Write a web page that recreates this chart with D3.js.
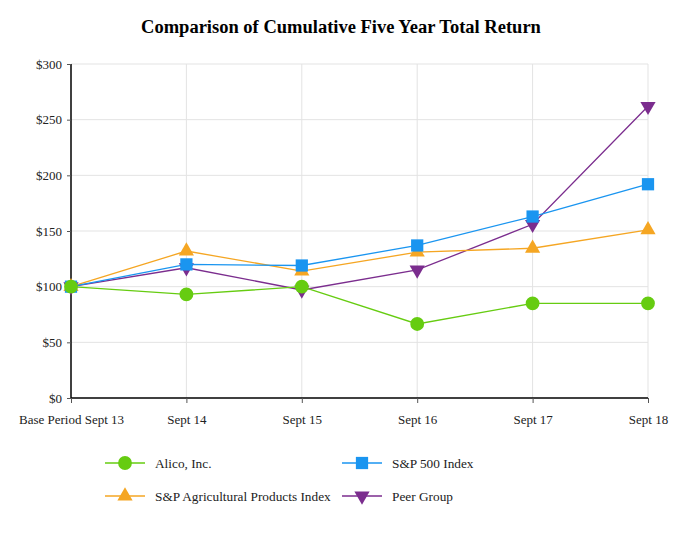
<!DOCTYPE html>
<html>
<head>
<meta charset="utf-8">
<script src="https://cdn.jsdelivr.net/npm/d3@7"></script>
<style>
  body { margin: 0; background: #fff; }
  text { font-family: "Liberation Serif", "Times New Roman", serif; }
</style>
</head>
<body>
<svg id="chart" width="682" height="533"></svg>
<script>
var periods = ["Base Period Sept 13", "Sept 14", "Sept 15", "Sept 16", "Sept 17", "Sept 18"];
var alico = [100, 93, 100, 66.5, 85, 85];
var sp500 = [100, 120, 119, 137, 163, 192];
var agri = [100, 132, 114, 131, 134.5, 151];
var peer = [100, 117, 97, 115, 156, 262];
var yTicks = [0, 50, 100, 150, 200, 250, 300];

var series = [
  { name: "Alico, Inc.", values: alico, color: "#66cc11", symbol: d3.symbolCircle, size: 150 },
  { name: "S&P 500 Index", values: sp500, color: "#1a95f0", symbol: d3.symbolSquare, size: 150 },
  { name: "S&P Agricultural Products Index", values: agri, color: "#f5a623", symbol: d3.symbolTriangle, size: 100 },
  { name: "Peer Group", values: peer, color: "#7b2d8e", symbol: d3.symbolTriangle, size: 100, flip: true }
];

var svg = d3.select("#chart");
var mLeft = 71, mRight = 648, mTop = 64, mBottom = 398;

var x = d3.scalePoint().domain(periods).range([mLeft, mRight]);
var y = d3.scaleLinear().domain([0, 300]).range([mBottom, mTop]);

svg.append("text")
  .attr("x", 341).attr("y", 33)
  .attr("text-anchor", "middle")
  .style("font-size", "18.5px").style("font-weight", "bold")
  .text("Comparison of Cumulative Five Year Total Return");

// grid
svg.append("g").selectAll("line").data(yTicks.slice(1)).enter().append("line")
  .attr("x1", mLeft).attr("x2", mRight)
  .attr("y1", function(d) { return y(d); }).attr("y2", function(d) { return y(d); })
  .attr("stroke", "#e3e3e3").attr("stroke-width", 1);
svg.append("g").selectAll("line").data(periods.slice(1)).enter().append("line")
  .attr("x1", function(d) { return x(d); }).attr("x2", function(d) { return x(d); })
  .attr("y1", mTop).attr("y2", mBottom)
  .attr("stroke", "#e3e3e3").attr("stroke-width", 1);

// axes
var yAxis = svg.append("g").attr("transform", "translate(" + mLeft + ",0)")
  .call(d3.axisLeft(y).tickValues(yTicks).tickSize(4).tickPadding(5).tickFormat(function(d) { return "$" + d; }));
var xAxis = svg.append("g").attr("transform", "translate(0," + mBottom + ")")
  .call(d3.axisBottom(x).tickSize(5).tickPadding(12));
[yAxis, xAxis].forEach(function(a) {
  a.select(".domain").attr("stroke", "#000").attr("stroke-width", 1.5);
  a.selectAll(".tick line").attr("stroke", "#555");
  a.selectAll("text").style("font-size", "13px").style("font-family", "Liberation Serif").attr("fill", "#222");
});
yAxis.select(".domain").attr("d", "M0," + mTop + "V" + mBottom);
xAxis.select(".domain").attr("d", "M" + mLeft + ",0H" + mRight);

var line = d3.line()
  .x(function(d, i) { return x(periods[i]); })
  .y(function(d) { return y(d); });

// draw back to front: peer group at the bottom, Alico on top
series.slice().reverse().forEach(function(s) {
  var g = svg.append("g");
  g.append("path").datum(s.values)
    .attr("d", line).attr("fill", "none")
    .attr("stroke", s.color).attr("stroke-width", 1.3);
  g.selectAll("path.m").data(s.values).enter().append("path")
    .attr("class", "m")
    .attr("d", d3.symbol().type(s.symbol).size(s.size))
    .attr("transform", function(d, i) {
      return "translate(" + x(periods[i]) + "," + y(d) + ")" + (s.flip ? " rotate(180)" : "");
    })
    .attr("fill", s.color);
});

// legend
var legendPos = [[105, 463], [342, 463], [105, 496], [342, 496]];
series.forEach(function(s, i) {
  var p = legendPos[i];
  var g = svg.append("g").attr("transform", "translate(" + p[0] + "," + p[1] + ")");
  g.append("line").attr("x1", 0).attr("x2", 40).attr("stroke", s.color).attr("stroke-width", 1.5);
  g.append("path")
    .attr("d", d3.symbol().type(s.symbol).size(s.size))
    .attr("transform", "translate(20,0)" + (s.flip ? " rotate(180)" : ""))
    .attr("fill", s.color);
  g.append("text").attr("x", 50).attr("y", 4.5)
    .style("font-size", "13.3px").attr("fill", "#222")
    .text(s.name);
});
</script>
</body>
</html>
